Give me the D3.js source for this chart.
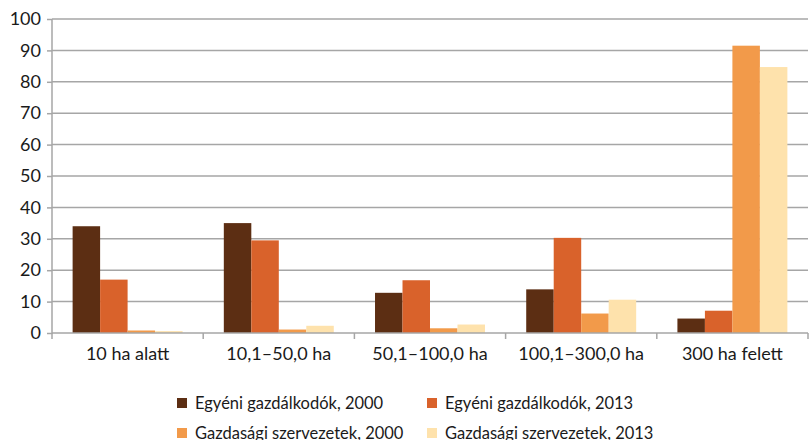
<!DOCTYPE html>
<html>
<head>
<meta charset="utf-8">
<script src="https://cdn.jsdelivr.net/npm/d3@7"></script>
<style>
  body { margin: 0; background: #fff; }
  text { font-family: Lato, "Open Sans", sans-serif; fill: #1a1a1a; }
</style>
</head>
<body>
<svg width="809" height="440"></svg>
<script>
var categories = ['10 ha alatt', '10,1–50,0 ha', '50,1–100,0 ha', '100,1–300,0 ha', '300 ha felett'];
var seriesNames = ['Egyéni gazdálkodók, 2000', 'Egyéni gazdálkodók, 2013', 'Gazdasági szervezetek, 2000', 'Gazdasági szervezetek, 2013'];
var egyeni2000 = [34, 35, 12.8, 13.9, 4.6];
var egyeni2013 = [17, 29.5, 16.8, 30.3, 7.1];
var gazd2000 = [0.8, 1.1, 1.5, 6.2, 91.5];
var gazd2013 = [0.6, 2.3, 2.7, 10.6, 84.7];
var yTicks = [0, 10, 20, 30, 40, 50, 60, 70, 80, 90, 100];
var colors = ['#5c2e13', '#d9622b', '#f29a4a', '#fee2ac'];

var svg = d3.select('svg');
var plotLeft = 52, plotRight = 808, plotTop = 19, plotBottom = 333;

var seriesValues = [egyeni2000, egyeni2013, gazd2000, gazd2013];

var xScale = d3.scaleBand()
  .domain(categories)
  .range([plotLeft, plotRight]);
var inner = d3.scaleBand()
  .domain(d3.range(4))
  .range([0, xScale.bandwidth()])
  .paddingOuter(0.75)
  .paddingInner(0);
var yScale = d3.scaleLinear()
  .domain([0, 100])
  .range([plotBottom, plotTop]);

// gridlines
svg.selectAll('.grid')
  .data(yTicks.filter(function(d) { return d > 0; }))
  .enter()
  .append('line')
  .attr('x1', plotLeft)
  .attr('x2', plotRight)
  .attr('y1', function(d) { return yScale(d); })
  .attr('y2', function(d) { return yScale(d); })
  .style('stroke', '#a6a6a6')
  .style('stroke-width', 1.5);

// bars
seriesValues.forEach(function(vals, s) {
  svg.selectAll('.bar' + s)
    .data(vals)
    .enter()
    .append('rect')
    .attr('x', function(d, i) { return xScale(categories[i]) + inner(s); })
    .attr('width', inner.bandwidth())
    .attr('y', function(d) { return yScale(d); })
    .attr('height', function(d) { return plotBottom - yScale(d); })
    .attr('fill', colors[s]);
});

// y axis
var yAxis = d3.axisLeft(yScale).tickValues(yTicks).tickSize(5).tickPadding(6);
var yg = svg.append('g')
  .attr('transform', 'translate(' + plotLeft + ',0)')
  .call(yAxis);
yg.select('.domain').attr('stroke', '#a6a6a6').attr('stroke-width', 1.5).attr('d', 'M0,' + plotTop + 'V' + (plotBottom + 1));
yg.selectAll('line').attr('stroke', '#a6a6a6').attr('stroke-width', 1.5);
yg.selectAll('text').style('font-size', '18px').attr('fill', '#1a1a1a');

// x axis
var xg = svg.append('g').attr('transform', 'translate(0,' + plotBottom + ')');
xg.append('line')
  .attr('x1', plotLeft).attr('x2', plotRight)
  .attr('stroke', '#a6a6a6').attr('stroke-width', 1.5);
var bounds = categories.map(function(c) { return xScale(c); }).concat([plotRight]);
xg.selectAll('.xt')
  .data(bounds)
  .enter()
  .append('line')
  .attr('x1', function(d) { return d; })
  .attr('x2', function(d) { return d; })
  .attr('y1', 0).attr('y2', 6)
  .attr('stroke', '#a6a6a6').attr('stroke-width', 1.5);
xg.selectAll('.xl')
  .data(categories)
  .enter()
  .append('text')
  .attr('x', function(d) { return xScale(d) + xScale.bandwidth() / 2; })
  .attr('y', 27)
  .attr('text-anchor', 'middle')
  .style('font-size', '18px')
  .text(function(d) { return d; });

// legend
var legendPos = [[177, 403], [427, 403], [177, 433], [427, 433]];
var legend = svg.selectAll('.legend')
  .data(seriesNames)
  .enter()
  .append('g')
  .attr('transform', function(d, i) { return 'translate(' + legendPos[i][0] + ',' + legendPos[i][1] + ')'; });
legend.append('rect')
  .attr('x', 0).attr('y', -5).attr('width', 10).attr('height', 10)
  .attr('fill', function(d, i) { return colors[i]; });
legend.append('text')
  .attr('x', 18).attr('y', 0)
  .attr('dy', '0.35em')
  .style('font-size', '16.5px')
  .text(function(d) { return d; });
</script>
</body>
</html>
